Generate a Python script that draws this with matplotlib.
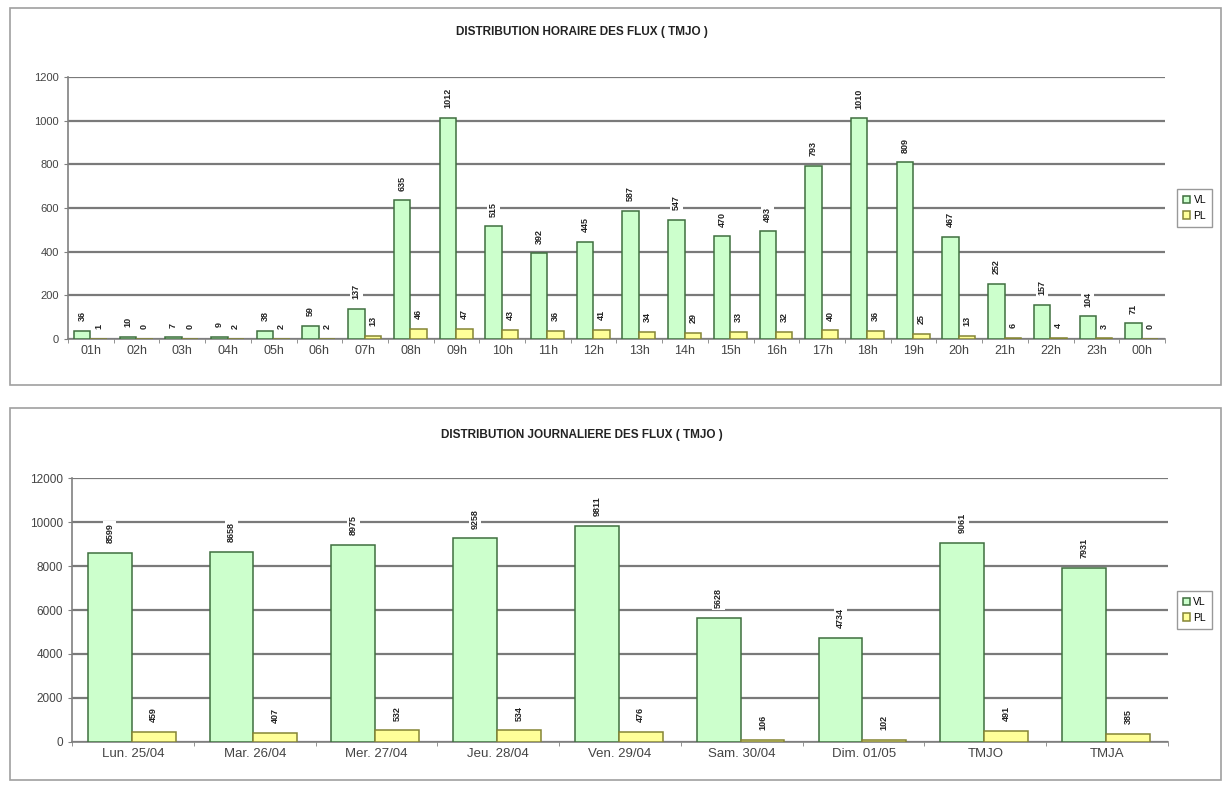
import matplotlib.pyplot as plt
from matplotlib.patches import Rectangle
import numpy as np

plt.rcParams['font.family'] = ['Liberation Sans', 'DejaVu Sans']

# Hourly data
heures = ["01h", "02h", "03h", "04h", "05h", "06h", "07h", "08h", "09h", "10h", "11h", "12h",
          "13h", "14h", "15h", "16h", "17h", "18h", "19h", "20h", "21h", "22h", "23h", "00h"]
vl_heure = [36, 10, 7, 9, 38, 59, 137, 635, 1012, 515, 392, 445,
            587, 547, 470, 493, 793, 1010, 809, 467, 252, 157, 104, 71]
pl_heure = [1, 0, 0, 2, 2, 2, 13, 46, 47, 43, 36, 41,
            34, 29, 33, 32, 40, 36, 25, 13, 6, 4, 3, 0]

# Daily data
jours = ["Lun. 25/04", "Mar. 26/04", "Mer. 27/04", "Jeu. 28/04", "Ven. 29/04",
         "Sam. 30/04", "Dim. 01/05", "TMJO", "TMJA"]
vl_jour = [8599, 8658, 8975, 9258, 9811, 5628, 4734, 9061, 7931]
pl_jour = [459, 407, 532, 534, 476, 106, 102, 491, 385]

green = "#ccffcc"
green_edge = "#3f6f3f"
yellow = "#ffff99"
yellow_edge = "#858535"

fig = plt.figure(figsize=(12.25, 7.87), dpi=100)

# panel frames
for (y0, h) in [(0.511, 0.479), (0.009, 0.473)]:
    fig.patches.append(Rectangle((0.008, y0), 0.989, h, transform=fig.transFigure,
                                 fill=False, edgecolor="#a0a0a0", linewidth=1.2))


def draw(ax, cats, vl, pl, ymax, step, title, title_y, xlab_size, ylab_size, leg_x):
    x = np.arange(len(cats))
    w = 0.36
    ax.bar(x - 0.19, vl, w, color=green, edgecolor=green_edge, linewidth=1.1, label="VL", zorder=3)
    ax.bar(x + 0.17, pl, w, color=yellow, edgecolor=yellow_edge, linewidth=1.1, label="PL", zorder=3)
    for xi, v in zip(x - 0.19, vl):
        ax.annotate(str(v), (xi, v), xytext=(0, 7), textcoords="offset points", rotation=90,
                    ha="center", va="bottom", fontsize=6.5, fontweight="bold", color="#222222",
                    bbox=dict(boxstyle="square,pad=0.2", fc="white", ec="none"), zorder=4)
    for xi, v in zip(x + 0.17, pl):
        ax.annotate(str(v), (xi, v), xytext=(0, 7), textcoords="offset points", rotation=90,
                    ha="center", va="bottom", fontsize=6.5, fontweight="bold", color="#222222",
                    bbox=dict(boxstyle="square,pad=0.2", fc="white", ec="none"), zorder=4)
    ax.set_xlim(-0.5, len(cats) - 0.5)
    ax.set_ylim(0, ymax)
    ax.set_yticks(np.arange(0, ymax + 1, step))
    ax.set_xticks(x)
    ax.set_xticklabels(cats)
    ax.set_xticks(np.arange(-0.5, len(cats), 1), minor=True)
    ax.tick_params(axis="x", which="major", length=0, labelsize=xlab_size, colors="#444444", pad=4)
    ax.tick_params(axis="x", which="minor", length=3, color="#808080")
    ax.tick_params(axis="y", length=3, color="#808080", labelsize=ylab_size, labelcolor="#444444")
    ax.yaxis.grid(True, color="#7a7a7a", linewidth=1.6, zorder=0)
    ax.set_axisbelow(True)
    for s in ["top", "right"]:
        ax.spines[s].set_visible(False)
    ax.spines["left"].set_color("#808080")
    ax.spines["bottom"].set_color("#808080")
    ax.spines["left"].set_linewidth(1.2)
    ax.spines["bottom"].set_linewidth(1.2)
    fig.text(0.475, title_y, title, ha="center", va="center", fontsize=8.5, fontweight="bold",
             color="#222222")
    ax.legend(loc="center left", bbox_to_anchor=(leg_x, 0.5), fontsize=7.5, frameon=True,
              fancybox=False, edgecolor="#808080", handlelength=0.7, handleheight=0.7,
              handletextpad=0.3, borderpad=0.6, labelspacing=0.5, borderaxespad=0.3)
    return ax


ax1 = fig.add_axes([0.0555, 0.5693, 0.8955, 0.333])
draw(ax1, heures, vl_heure, pl_heure, 1200, 200,
     "DISTRIBUTION HORAIRE DES FLUX ( TMJO )", 0.959, 9, 8, 1.008)

ax2 = fig.add_axes([0.0588, 0.0572, 0.8947, 0.3354])
draw(ax2, jours, vl_jour, pl_jour, 12000, 2000,
     "DISTRIBUTION JOURNALIERE DES FLUX ( TMJO )", 0.447, 9.5, 8.5, 1.005)

fig.savefig("out.png", dpi=100)
